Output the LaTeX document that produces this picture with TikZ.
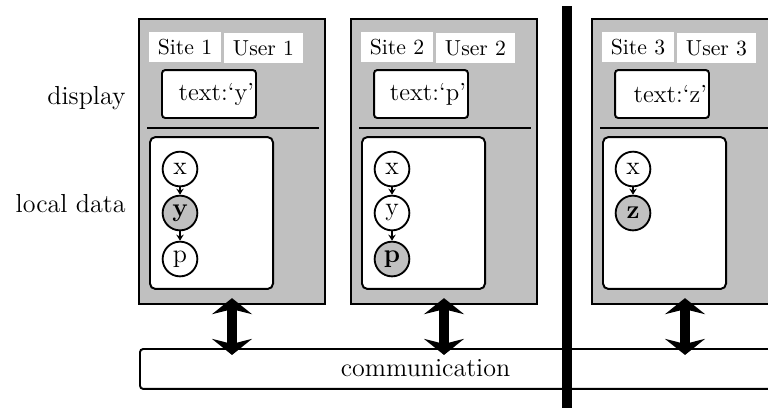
\documentclass[tikz,border=0pt]{standalone}
\usetikzlibrary{arrows.meta}
\definecolor{panelgray}{HTML}{C0C0C0}
\tikzset{
  sitebox/.style={draw, line width=1pt, fill=panelgray, minimum width=85.7pt,
    minimum height=131.3pt, inner sep=0pt},
  tagbox/.style={fill=white, inner sep=0pt, minimum height=13.8pt,
    font=\fontsize{10}{12}\selectfont},
  dispbox/.style={draw, fill=white, rounded corners=1.5pt, line width=0.9pt,
    text width=41.5pt, align=right, inner xsep=0.9pt, inner ysep=0pt,
    minimum height=22.1pt, font=\fontsize{11.4}{13}\selectfont},
  databox/.style={draw, fill=white, rounded corners=2.5pt, line width=0.9pt,
    minimum width=56.7pt, minimum height=70pt, inner sep=0pt},
  varnode/.style={circle, draw, fill=white, line width=0.85pt, minimum size=16pt,
    inner sep=0pt, font=\fontsize{12}{14}\selectfont},
  obsnode/.style={varnode, fill=panelgray, font=\fontsize{12}{14}\selectfont\bfseries},
  deparrow/.style={-{Stealth[length=2.8pt,width=3.4pt]}, line width=0.65pt},
  divider/.style={line width=0.9pt},
  commbox/.style={draw, fill=white, rounded corners=1.5pt, line width=0.9pt,
    minimum width=350pt, minimum height=18.4pt, inner sep=0pt},
  linkarrow/.style={{Stealth[length=7.4pt,width=18.4pt,inset=2.3pt]}-{Stealth[length=7.4pt,width=18.4pt,inset=2.3pt]},
    line width=5pt, shorten <=-3.2pt, shorten >=-3.2pt},
  sidelabel/.style={font=\fontsize{12}{14}\selectfont, anchor=base east, inner sep=0pt},
}
\begin{document}
\begin{tikzpicture}[x=0.4608pt, y=-0.4608pt]
  \useasboundingbox (0,0) rectangle (768,407);
  \clip (0,0) rectangle (768,407);

  % row labels
  \node[sidelabel] (lbldisp) at (126,104) {display};
  \node[sidelabel] (lbldata) at (126,212) {local data};

  % the three sites: panel, name tags, display, divider, data area
  \foreach \i/\L in {1/139, 2/351, 3/592} {
    \node[sitebox] (s\i) at (\L+93,161.5) {};
    \node[tagbox, minimum width=33.2pt] (site\i) at (\L+46,47) {Site \i};
    \node[tagbox, minimum width=36.6pt] (user\i) at (\L+124.5,48) {User \i};
    \coordinate (divl\i) at (\L+8,128);
    \coordinate (divr\i) at (\L+180,128);
    \draw[divider] (divl\i) -- (divr\i);
    \node[databox] (data\i) at (\L+72.5,213) {};
  }
  \node[dispbox] (disp1) at (139+70,94) {text:`y'};
  \node[dispbox] (disp2) at (351+70,94) {text:`p'};
  \node[dispbox] (disp3) at (592+70,94) {text:`z'};

  % site 1 data
  \node[varnode] (x1) at (180,169) {x};
  \node[obsnode] (y1) at (180,213) {y};
  \node[varnode] (p1) at (180,259) {p};
  \draw[deparrow] (x1) -- (y1);
  \draw[deparrow] (y1) -- (p1);

  % site 2 data
  \node[varnode] (x2) at (392,169) {x};
  \node[varnode] (y2) at (392,213) {y};
  \node[obsnode] (p2) at (392,259) {p};
  \draw[deparrow] (x2) -- (y2);
  \draw[deparrow] (y2) -- (p2);

  % site 3 data
  \node[varnode] (x3) at (633,169) {x};
  \node[obsnode] (z3) at (633,213) {z};
  \draw[deparrow] (x3) -- (z3);

  % communication layer
  \node[commbox, anchor=north west] (comm) at (139,348) {};
  \node[font=\fontsize{12}{14}\selectfont, inner sep=0pt] (commtext) at (425.5,368) {communication};

  \foreach \i in {1,2,3}
    \draw[linkarrow] (s\i.south) -- (s\i.south |- comm.north);

  % partition bar
  \coordinate (bartop) at (567,6);
  \coordinate (barbot) at (567,420);
  \draw[line width=4.8pt] (bartop) -- (barbot);
\end{tikzpicture}
\end{document}
